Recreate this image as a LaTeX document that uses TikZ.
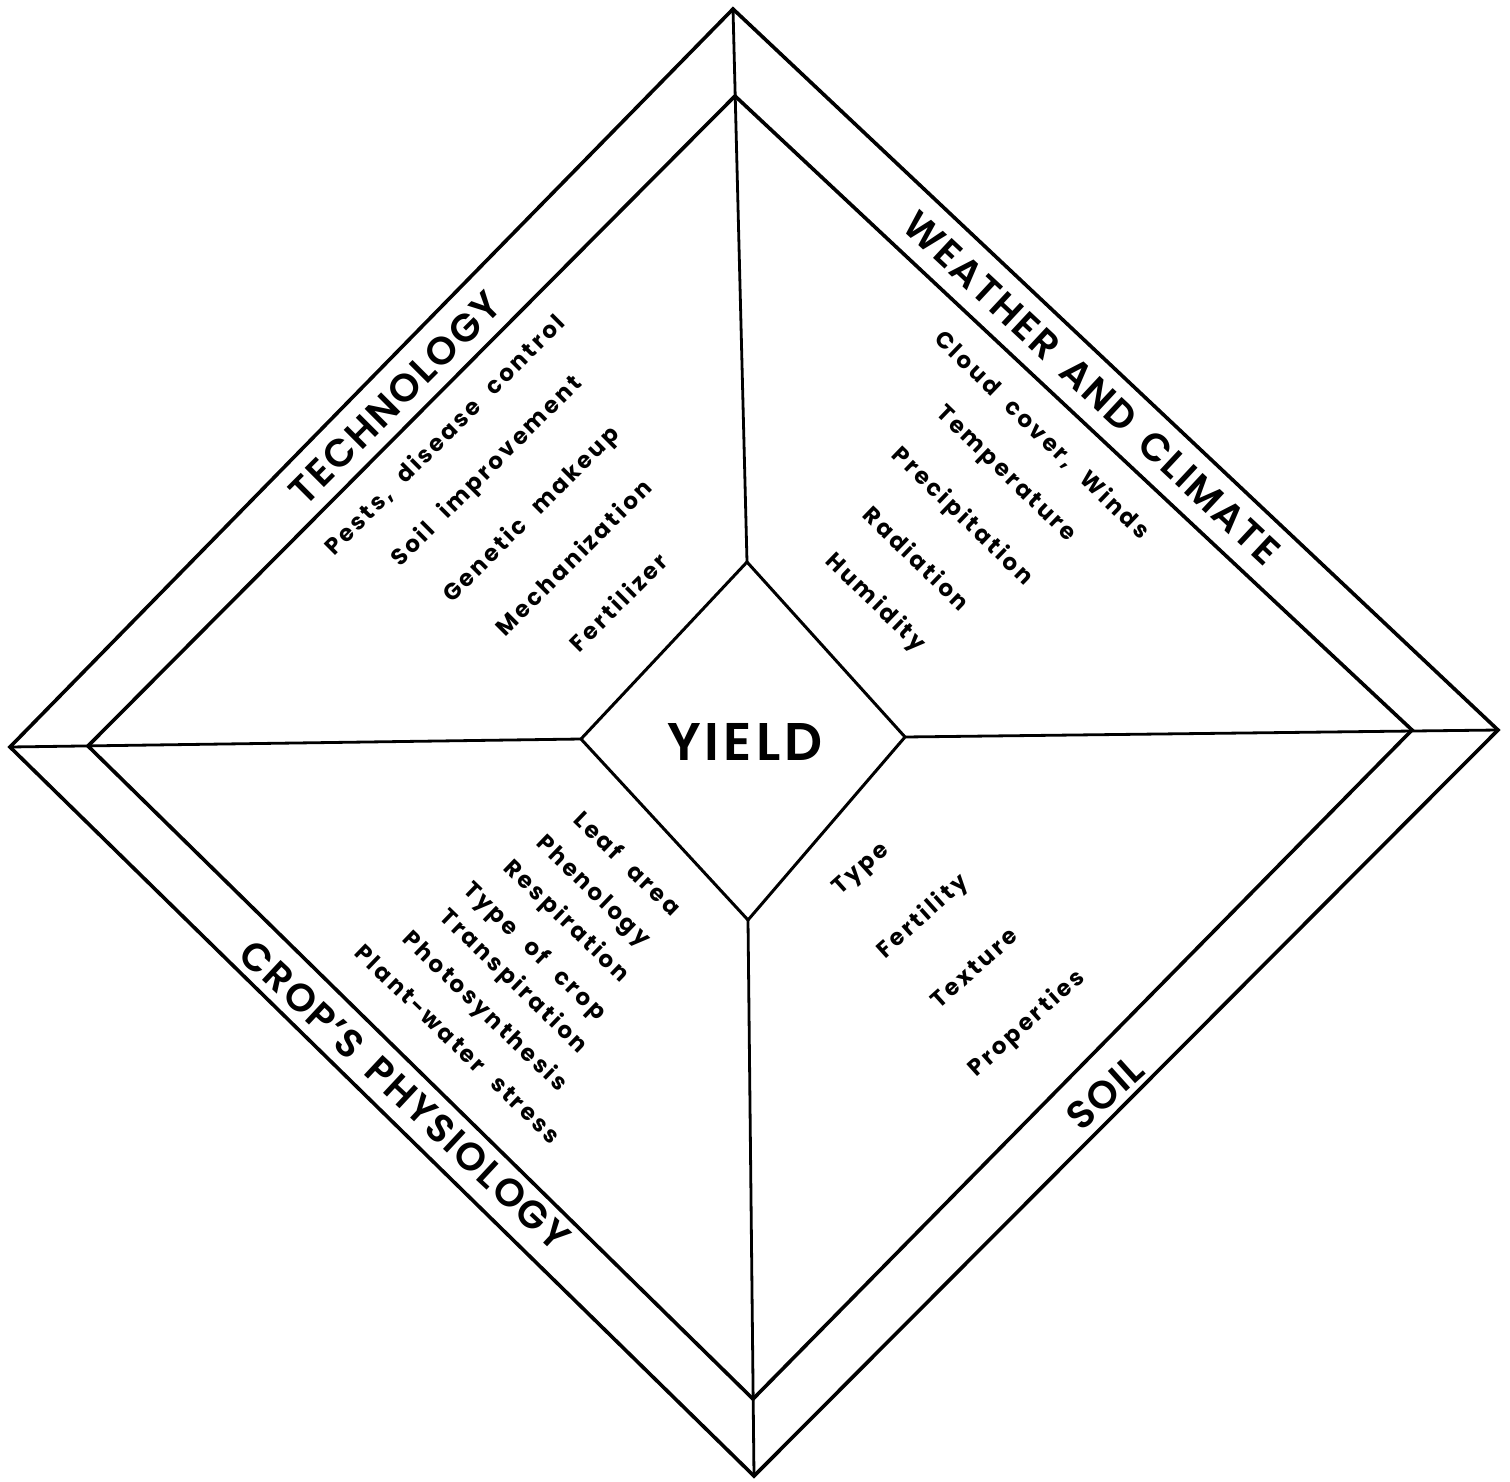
\documentclass[tikz,border=0pt]{standalone}
\usepackage{fontspec}
\setmainfont{Poppins}
\newfontfamily\hdfont{Poppins SemiBold}[LetterSpace=5,WordSpace=1.6]
\newfontfamily\yfont{Poppins SemiBold}[LetterSpace=8]
\newfontfamily\itfont{Poppins Bold}[LetterSpace=12,WordSpace=2.2]
\begin{document}
\begin{tikzpicture}[x=1pt,y=-1pt,
  frame/.style={line width=3.6pt,line join=miter},
  spoke/.style={line width=2.8pt},
  core/.style={line width=3pt,line join=miter},
  heading/.style={inner sep=0pt,font=\hdfont\fontsize{39}{39}\selectfont},
  item/.style={inner sep=0pt,font=\itfont\fontsize{23}{23}\selectfont},
  yieldtext/.style={inner sep=0pt,font=\yfont\fontsize{53}{53}\selectfont}]
\useasboundingbox[fill=white] (0,0) rectangle (1510,1482);
% vertices
\coordinate (oT) at (733,9);
\coordinate (oR) at (1498,730);
\coordinate (oB) at (754,1476);
\coordinate (oL) at (10,747);
\coordinate (iT) at (735,96);
\coordinate (iR) at (1412,730);
\coordinate (iB) at (753,1399);
\coordinate (iL) at (88,746);
\coordinate (cT) at (747,562);
\coordinate (cR) at (905,737);
\coordinate (cB) at (748,920);
\coordinate (cL) at (581,739);
% frames
\draw[frame] (oT) -- (oR) -- (oB) -- (oL) -- cycle;
\draw[frame] (iT) -- (iR) -- (iB) -- (iL) -- cycle;
\draw[core] (cT) -- (cR) -- (cB) -- (cL) -- cycle;
% spokes
\draw[spoke] (oT) -- (cT);
\draw[spoke] (oL) -- (cL);
\draw[spoke] (cR) -- (oR);
\draw[spoke] (cB) -- (oB);
% centre
\node[yieldtext] (yield) at (745,742) {YIELD};
% headings
\node[heading,rotate=45] (tech) at (395,398) {TECHNOLOGY};
\node[heading,rotate=-43] (weather) at (1092,388) {WEATHER AND CLIMATE};
\node[heading,rotate=-43] (crop) at (405,1095) {CROP’S PHYSIOLOGY};
\node[heading,rotate=42] (soil) at (1105,1093) {SOIL};
% technology items
\node[item,rotate=45] (t1) at (445,435) {Pests, disease control};
\node[item,rotate=45] (t2) at (487,472) {Soil improvement};
\node[item,rotate=45] (t3) at (532,515) {Genetic makeup};
\node[item,rotate=45] (t4) at (573,557) {Mechanization};
\node[item,rotate=45] (t5) at (618,602) {Fertilizer};
% weather items
\node[item,rotate=-44] (w1) at (1042,435) {Cloud cover, Winds};
\node[item,rotate=-44] (w2) at (1005,475) {Temperature};
\node[item,rotate=-44] (w3) at (962,517) {Precipitation};
\node[item,rotate=-44] (w4) at (917,558) {Radiation};
\node[item,rotate=-44] (w5) at (875,603) {Humidity};
% crop items
\node[item,rotate=-44] (c1) at (628,863) {Leaf area};
\node[item,rotate=-44] (c2) at (592,892) {Phenology};
\node[item,rotate=-44] (c3) at (566,922) {Respiration};
\node[item,rotate=-44] (c4) at (534,952) {Type of crop};
\node[item,rotate=-44] (c5) at (513,982) {Transpiration};
\node[item,rotate=-44] (c6) at (484,1012) {Photosynthesis};
\node[item,rotate=-44] (c7) at (458,1044) {Plant-water stress};
% soil items
\node[item,rotate=42] (s1) at (862,870) {Type};
\node[item,rotate=42] (s2) at (923,917) {Fertility};
\node[item,rotate=42] (s3) at (974,968) {Texture};
\node[item,rotate=42] (s4) at (1027,1024) {Properties};
\end{tikzpicture}
\end{document}
